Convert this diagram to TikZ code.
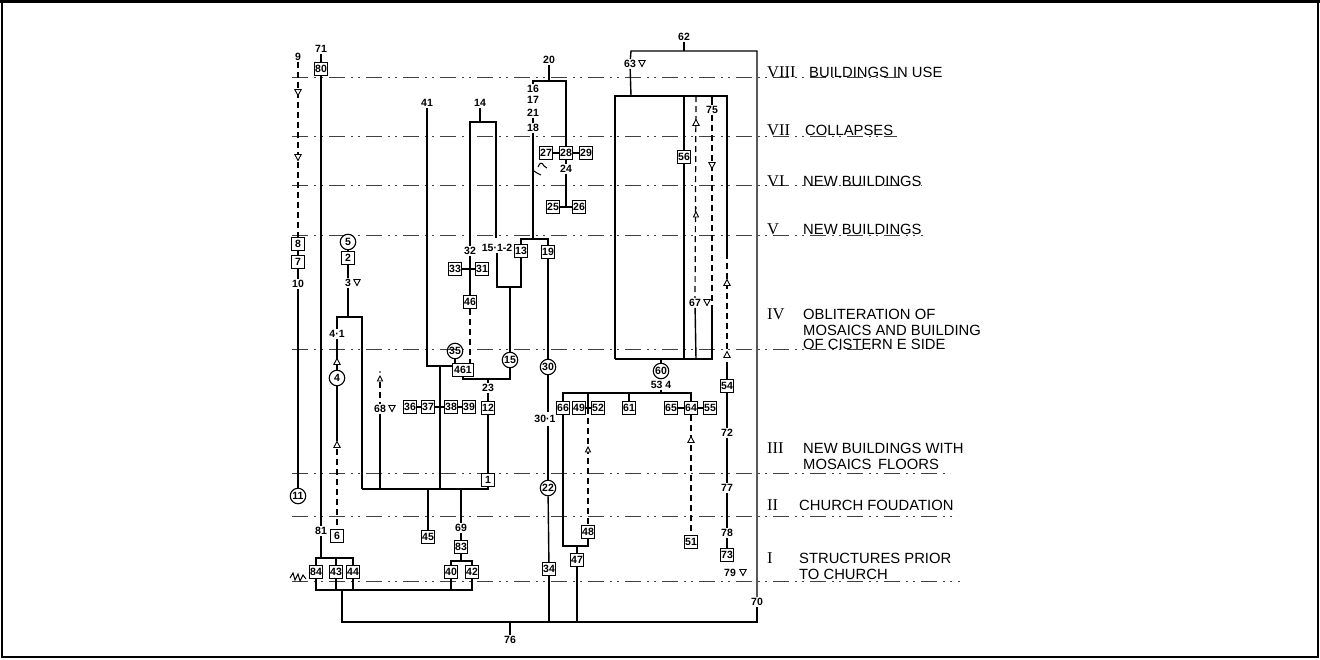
\documentclass[tikz,border=0pt]{standalone}
\usepackage{fontspec}
\setmainfont{Liberation Sans}
\newfontfamily\romfont{Liberation Serif}
\begin{document}
\begin{tikzpicture}[x=1pt,y=-1pt,
  bx/.style={draw, line width=1.2pt, minimum width=13pt, minimum height=13pt, inner sep=1pt, font=\fontsize{10.5}{10.5}\selectfont\bfseries},
  cr/.style={draw, circle, line width=1.1pt, minimum size=15.5pt, inner sep=0pt, font=\fontsize{10.5}{10.5}\selectfont\bfseries},
  lb/.style={inner sep=1pt, font=\fontsize{10.5}{10.5}\selectfont\bfseries},
  ln/.style={line width=1.4pt},
  dl/.style={line width=1.2pt, dash pattern=on 6pt off 4pt},
  ph/.style={line width=0.9pt, black!75, dash pattern=on 16pt off 6pt on 2pt off 5pt on 2pt off 6pt},
  ttl/.style={anchor=west, inner sep=0pt, font=\fontsize{14.8}{14.8}\selectfont},
  rom/.style={anchor=west, inner sep=0pt, font=\romfont\fontsize{16.5}{16.5}\selectfont},
  utri/.pic={\draw[line width=0.9pt, fill=white] (0,-3.5) -- (-3.2,2.5) -- (3.2,2.5) -- cycle;},
  dtri/.pic={\draw[line width=0.9pt, fill=white] (0,3.5) -- (-3.2,-2.5) -- (3.2,-2.5) -- cycle;},
  dagtri/.pic={\fill (0,-7) circle (0.9pt); \draw[line width=0.9pt, fill=white] (0,-3) -- (-2.6,2) -- (2.6,2) -- cycle;}
]
\useasboundingbox (0,0) rectangle (1320,659);
\draw[line width=2pt] (2,2) rectangle (1318,657);
\draw[line width=3pt] (0,1.5) -- (1320,1.5);

% phase lines
\foreach \y/\e in {77/905,136/897,185/922,235/923,349/870,473/950,516/958,581/960}
  \draw[ph] (292,\y) -- (\e,\y);

% phase labels
\node[rom] (r8) at (767,72) {VIII};
\node[ttl] (t8) at (809,72) {BUILDINGS IN USE};
\node[rom] (r7) at (767,130) {VII};
\node[ttl] (t7) at (805,130) {COLLAPSES};
\node[rom] (r6) at (767,181) {VI};
\node[ttl] (t6) at (803,181) {NEW BUILDINGS};
\node[rom] (r5) at (767,229) {V};
\node[ttl] (t5) at (803,229) {NEW BUILDINGS};
\node[rom] (r4) at (767,314) {IV};
\node[ttl] (t4a) at (803,314) {OBLITERATION OF};
\node[ttl] (t4b) at (803,330) {MOSAICS AND BUILDING};
\node[ttl] (t4c) at (803,344) {OF CISTERN E SIDE};
\node[rom] (r3) at (767,448) {III};
\node[ttl] (t3a) at (803,448) {NEW BUILDINGS WITH};
\node[ttl] (t3b) at (803,464) {MOSAICS\, FLOORS};
\node[rom] (r2) at (767,505) {II};
\node[ttl] (t2) at (799,505) {CHURCH FOUDATION};
\node[rom] (r1) at (767,558) {I};
\node[ttl] (t1a) at (799,558) {STRUCTURES PRIOR};
\node[ttl] (t1b) at (799,574) {TO CHURCH};

% ---------- column 9 ----------
\node[lb] (l9) at (298,57) {9};
\node[bx] (b8) at (298,244) {8};
\node[bx] (b7) at (298,262) {7};
\node[lb] (l10) at (298,284) {10};
\node[cr] (c11) at (298,496) {11};
\draw[dl] (l9) -- (b8);
\pic at (298,92) {dtri};
\pic at (298,157) {dtri};
\draw[ln] (b8) -- (b7);
\draw[ln] (b7) -- (l10);
\draw[ln] (l10) -- (c11);

% ---------- column 80 ----------
\node[lb] (l71) at (321,49) {71};
\node[bx] (b80) at (321,69) {80};
\node[lb] (l81) at (321,531) {81};
\draw[ln] (l71) -- (b80);
\draw[ln] (b80) -- (l81);
\node[bx] (b84) at (316,572) {84};
\node[bx] (b43) at (336,572) {43};
\node[bx] (b44) at (353,572) {44};
\coordinate (k81) at (321,558);
\draw[ln] (l81) -- (k81);
\draw[ln] (b84.north) -- (b84.north |- k81) -- (b44.north |- k81) -- (b44.north);
\draw[ln] (b43.north) -- (b43.north |- k81);
\draw[line width=1pt] (290,578) -- (293,573) -- (295,580) -- (298,574) -- (300,581) -- (303,575) -- (306,579);

% ---------- column 5/2/3/4/6 ----------
\node[cr] (c5) at (348,242) {5};
\node[bx] (b2) at (348,258) {2};
\node[lb] (l3) at (348,283) {3};
\pic at (357,282) {dtri};
\coordinate (k3) at (348,317);
\draw[ln] (c5) -- (b2);
\draw[ln] (b2) -- (l3);
\draw[ln] (l3) -- (k3);
\node[lb] (l41a) at (337,334) {4·1};
\node[cr] (c4) at (337,378) {4};
\node[bx] (b6) at (337,536) {6};
\draw[ln] (l41a) -- (337,317) -- (362,317) -- (362,489);
\draw[ln] (l41a) -- (c4);
\pic at (337,362) {utri};
\draw[ln] (c4) -- (337,441);
\pic at (337,445) {utri};
\draw[dl] (337,449) -- (b6);

% ---------- column 68 ----------
\node[lb] (l68) at (380,409) {68};
\pic at (392,408) {dtri};
\pic at (380,379) {dagtri};
\draw[dl] (380,382) -- (l68);
\draw[ln] (l68) -- (380,489);

% ---------- bracket y=489 ----------
\node[bx] (b1) at (488,480) {1};
\draw[ln] (362,489) -- (488,489) -- (b1.south);

% ---------- column 41 / 440 ----------
\node[lb] (l41) at (427,103) {41};
\node[bx, minimum width=21pt] (b461) at (463,370) {461};
\node[cr] (c35) at (455,351) {35};
\draw[ln] (l41) -- (427,366) -- (b461.west |- 0,366);
\draw[ln] (440,366) -- (440,489);
\draw[ln] (c35) -- (455,363);
\node[bx] (b36) at (410,407) {36};
\node[bx] (b37) at (428,407) {37};
\node[bx] (b38) at (451,407) {38};
\node[bx] (b39) at (469,407) {39};
\draw[ln] (b36) -- (b37);
\draw[ln] (b37) -- (b38);
\draw[ln] (b38) -- (b39);

\node[bx] (b45) at (428,537) {45};
\draw[ln] (428,489) -- (b45);
\node[lb] (l69) at (461,528) {69};
\node[bx] (b83) at (461,547) {83};
\node[bx] (b40) at (451,572) {40};
\node[bx] (b42) at (472,572) {42};
\draw[ln] (461,489) -- (l69);
\draw[ln] (l69) -- (b83);
\draw[ln] (b83) -- (461,561);
\draw[ln] (b40.north) |- (461,561) -| (b42.north);

% bottom brackets
\coordinate (k590) at (342,590);
\draw[ln] (b84.south) -- (b84.south |- k590) -- (b42.south |- k590) -- (b42.south);
\draw[ln] (b43.south) -- (b43.south |- k590);
\draw[ln] (b44.south) -- (b44.south |- k590);
\draw[ln] (b40.south) -- (b40.south |- k590);
\node[lb] (l70) at (757,602) {70};
\node[lb] (l76) at (510,640) {76};
\draw[ln] (k590) -- (342,622) -- (757,622) -- (l70);
\draw[ln] (l76) -- (510,622);

% ---------- column 14 ----------
\node[lb] (l14) at (480,103) {14};
\node[lb] (l32) at (470,251) {32};
\node[lb] (l151) at (497,248) {15·1-2};
\draw[ln] (l14) -- (480,122);
\draw[ln] (l32) -- (470,122) -- (496,122) -- (496,238);
\node[bx] (b33) at (455,269) {33};
\node[bx] (b31) at (482,269) {31};
\node[bx] (b46) at (470,302) {46};
\draw[ln] (b33) -- (b31);
\draw[ln] (l32) -- (b46);
\draw[dl] (b46) -- (470,363);
\node[cr] (c15) at (510,360) {15};
\node[lb] (l23) at (488,388) {23};
\node[bx] (b12) at (488,408) {12};
\draw[ln] (b461.south) -- (463,379) -- (510,379) -- (c15);
\draw[ln] (488,379) -- (l23);
\draw[ln] (l23) -- (b12);
\draw[ln] (b12) -- (b1);
\node[bx] (b13) at (521,251) {13};
\draw[ln] (l151.south -| 497,0) -- (497,287) -- (521,287) -- (b13);
\draw[ln] (510,287) -- (c15);

% ---------- column 18 / 20 ----------
\node[lb] (l20) at (549,60) {20};
\node[lb] (l16) at (533,89) {16};
\node[lb] (l17) at (533,100) {17};
\node[lb] (l21) at (533,113) {21};
\node[lb] (l18) at (533,128) {18};
\node[bx] (b19) at (548,252) {19};
\node[bx] (b27) at (546,153) {27};
\node[bx] (b28) at (566,153) {28};
\node[bx] (b29) at (586,153) {29};
\node[lb] (l24) at (566,169) {24};
\node[bx] (b25) at (553,207) {25};
\node[bx] (b26) at (579,207) {26};
\draw[ln] (l20) -- (549,81);
\draw[ln] (l16) -- (533,81) -- (566,81) -- (b28);
\draw[ln] (l21) -- (l18);
\draw[ln] (l18) -- (533,239);
\draw[ln] (b13) -- (521,239) -- (548,239) -- (b19);
\draw[ln] (b27) -- (b28);
\draw[ln] (b28) -- (b29);
\draw[ln] (b28) -- (l24);
\draw[ln] (l24) -- (566,207);
\draw[ln] (b25) -- (b26);
\draw[line width=1pt] (538,167) .. controls (540,162) and (542,162) .. (544,166) -- (547,168);
\draw[line width=1pt] (534,171) -- (537,173) -- (541,175);

% ---------- column 19 ----------
\node[cr] (c30) at (548,367) {30};
\node[lb] (l301) at (545,419) {30·1};
\node[cr] (c22) at (548,488) {22};
\node[bx] (b34) at (549,569) {34};
\draw[ln] (b19) -- (c30);
\draw[ln] (c30) -- (548,412);
\draw[ln] (548,426) -- (c22);
\draw[ln] (c22) -- (b34);
\draw[ln] (b34) -- (549,622);

% ---------- right complex ----------
\node[lb] (l62) at (684,37) {62};
\node[lb] (l63) at (630,64) {63};
\pic at (642,63) {dtri};
\draw[ln] (l62) -- (684,51);
\draw[ln] (l63) -- (631,51) -- (757,51) -- (l70);
\draw[ln] (l63) -- (631,96);
\draw[ln] (615,359) -- (615,96) -- (727,96) -- (727,253);
\node[bx] (b56) at (684,157) {56};
\draw[ln] (684,96) -- (b56);
\draw[ln] (b56) -- (684,359);
\node[lb] (l67) at (695,303) {67};
\pic at (707,302) {dtri};
\draw[dl] (696,96) -- (l67);
\pic at (696,123) {utri};
\pic at (696,215) {dagtri};
\draw[ln] (l67) -- (696,359);
\node[lb] (l75) at (712,110) {75};
\draw[ln] (712,96) -- (l75);
\draw[dl] (l75) -- (712,306);
\pic at (712,165) {dtri};
\draw[ln] (712,306) -- (712,359);
\draw[ln] (615,359) -- (713,359);
\draw[dl] (727,253) -- (727,352);
\pic at (727,283) {utri};
\pic at (727,355) {utri};

\node[cr] (c60) at (661,371) {60};
\node[lb] (l534) at (661,385) {53 4};
\draw[ln] (661,359) -- (c60);
\draw[ln] (l534) -- (661,393);
\node[bx] (b66) at (563,408) {66};
\node[bx] (b49) at (579,408) {49};
\node[bx] (b52) at (598,408) {52};
\node[bx] (b61) at (629,408) {61};
\node[bx] (b65) at (671,408) {65};
\node[bx] (b64) at (691,408) {64};
\node[bx] (b55) at (710,408) {55};
\draw[ln] (b66.north) -- (563,393) -- (691,393) -- (b64.north);
\draw[ln] (629,393) -- (b61);
\draw[ln] (588,393) -- (588,408);
\draw[ln] (b49) -- (b52);
\draw[ln] (b65) -- (b64);
\draw[ln] (b64) -- (b55);
\node[bx] (b48) at (588,532) {48};
\node[bx] (b47) at (577,560) {47};
\node[bx] (b51) at (691,542) {51};
\draw[dl] (588,408) -- (b48);
\pic at (588,450) {dagtri};
\draw[dl] (b64) -- (b51);
\pic at (691,440) {utri};
\draw[ln] (b66.south) -- (563,546) -- (588,546) -- (b48.south);
\draw[ln] (577,546) -- (b47);
\draw[ln] (b47) -- (577,622);

\node[bx] (b54) at (727,386) {54};
\node[lb] (l72) at (727,433) {72};
\node[lb] (l77) at (727,488) {77};
\node[lb] (l78) at (727,533) {78};
\node[bx] (b73) at (727,555) {73};
\node[lb] (l79) at (730,573) {79};
\pic at (743,572) {dtri};
\draw[ln] (727,362) -- (b54);
\draw[ln] (b54) -- (l72);
\draw[ln] (l72) -- (l77);
\draw[ln] (l77) -- (l78);
\draw[ln] (l78) -- (b73);
\end{tikzpicture}
\end{document}
